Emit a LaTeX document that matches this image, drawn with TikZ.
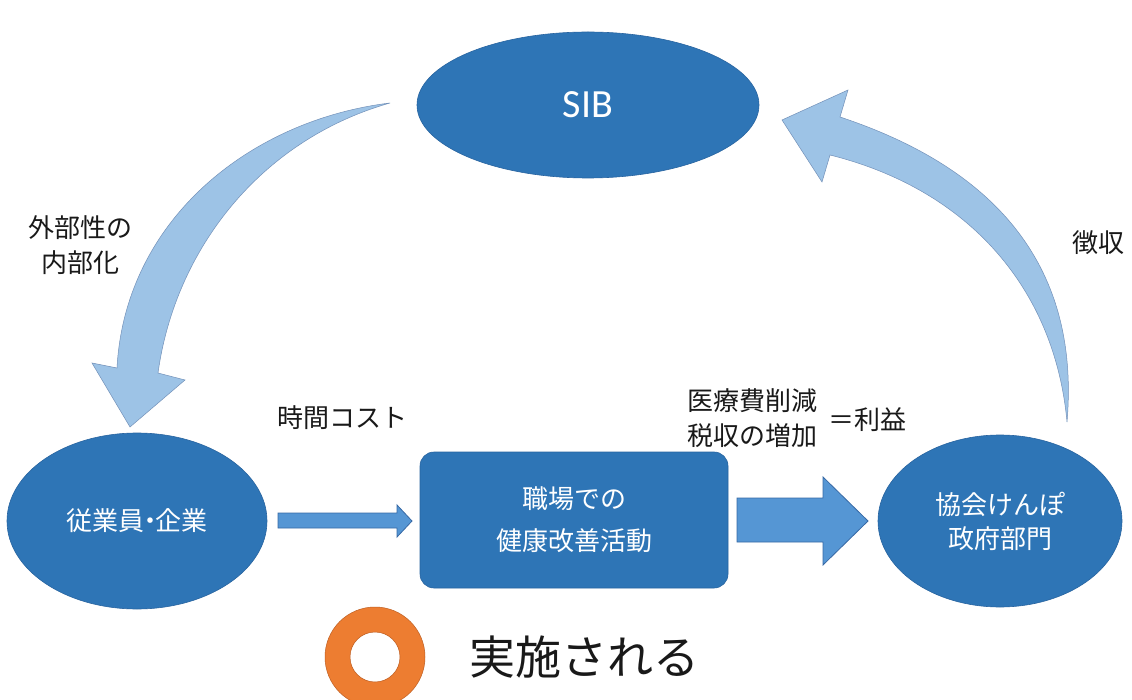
\documentclass[tikz,border=0pt]{standalone}
\usepackage{fontspec}
\setmainfont{Carlito}
\newfontfamily\jp{Noto Sans CJK JP}
\usetikzlibrary{shapes.geometric}
\definecolor{ellblue}{RGB}{46,117,182}
\definecolor{elledge}{RGB}{40,100,160}
\definecolor{lightblue}{RGB}{157,195,230}
\definecolor{lightedge}{RGB}{115,145,185}
\definecolor{midblue}{RGB}{85,150,212}
\definecolor{midedge}{RGB}{55,105,165}
\definecolor{ringorange}{RGB}{237,125,49}
\definecolor{ringedge}{RGB}{190,95,35}
\definecolor{txt}{RGB}{25,25,25}
\begin{document}
\begin{tikzpicture}[x=1pt,y=-1pt,
  ell/.style={ellipse, fill=ellblue, draw=elledge, line width=0.6pt, inner sep=0pt,
    text=white, align=center, font=\jp\fontsize{26}{34}\selectfont},
  boxnode/.style={rectangle, rounded corners=14pt, fill=ellblue, draw=elledge, line width=0.6pt,
    inner sep=0pt, text=white, align=center, font=\jp\fontsize{26}{42}\selectfont},
  lbl/.style={align=center, inner sep=0pt, text=txt, font=\jp\fontsize{26}{35}\selectfont},
  curvearrow/.style={fill=lightblue, draw=lightedge, line width=0.5pt, line join=miter},
  blockarrow/.style={fill=midblue, draw=midedge, line width=0.8pt, line join=miter}]
\useasboundingbox (0,0) rectangle (1132,700);
\fill[white] (0,0) rectangle (1132,700);

% main nodes
\node[ell, minimum width=342pt, minimum height=146pt, font=\fontsize{40}{40}\selectfont] (sib) at (588,105) {SIB};
\node[ell, minimum width=260pt, minimum height=176pt] (emp) at (137,521) {従業員\hspace{-0.3em}・\hspace{-0.3em}企業};
\node[boxnode, minimum width=308pt, minimum height=136pt] (act) at (574,520) {職場での\\健康改善活動};
\node[ell, minimum width=244pt, minimum height=172pt] (gov) at (1000,521) {協会けんぽ\\政府部門};

% curved arrow SIB -> employees
\coordinate (lt) at (390,103);
\path[curvearrow] (lt) .. controls (250,120) and (125,220) .. (117,368)
  -- (92,363) -- (130,427) -- (185,380) -- (158,373)
  .. controls (175,250) and (260,140) .. (lt) -- cycle;

% curved arrow government -> SIB
\coordinate (rt) at (1067,422);
\path[curvearrow] (rt) .. controls (1080,270) and (1000,170) .. (840,117)
  -- (848,90) -- (782,120) -- (822,182) -- (830,155)
  .. controls (970,190) and (1055,290) .. (rt) -- cycle;

% straight block arrows
\path[blockarrow] (278,513) -- (397,513) -- (397,505) -- (412,521) -- (397,537) -- (397,528) -- (278,528) -- cycle;
\path[blockarrow] (737,498) -- (823,498) -- (823,477) -- (868,521) -- (823,565) -- (823,542) -- (737,542) -- cycle;

% labels
\node[lbl] (ext) at (80,245) {外部性の\\内部化};
\node[lbl] (cost) at (342,418) {時間コスト};
\node[lbl] (med) at (752,418) {医療費削減\\税収の増加};
\node[lbl] (gain) at (867,420) {＝利益};
\node[lbl] (tax) at (1098,243) {徴収};

% legend
\fill[ringorange, draw=ringedge, line width=0.5pt, even odd rule] (375,657) circle[radius=50] (375,657) circle[radius=25];
\node[lbl, font=\jp\fontsize{46}{50}\selectfont] (done) at (584,657) {実施される};
\end{tikzpicture}
\end{document}
